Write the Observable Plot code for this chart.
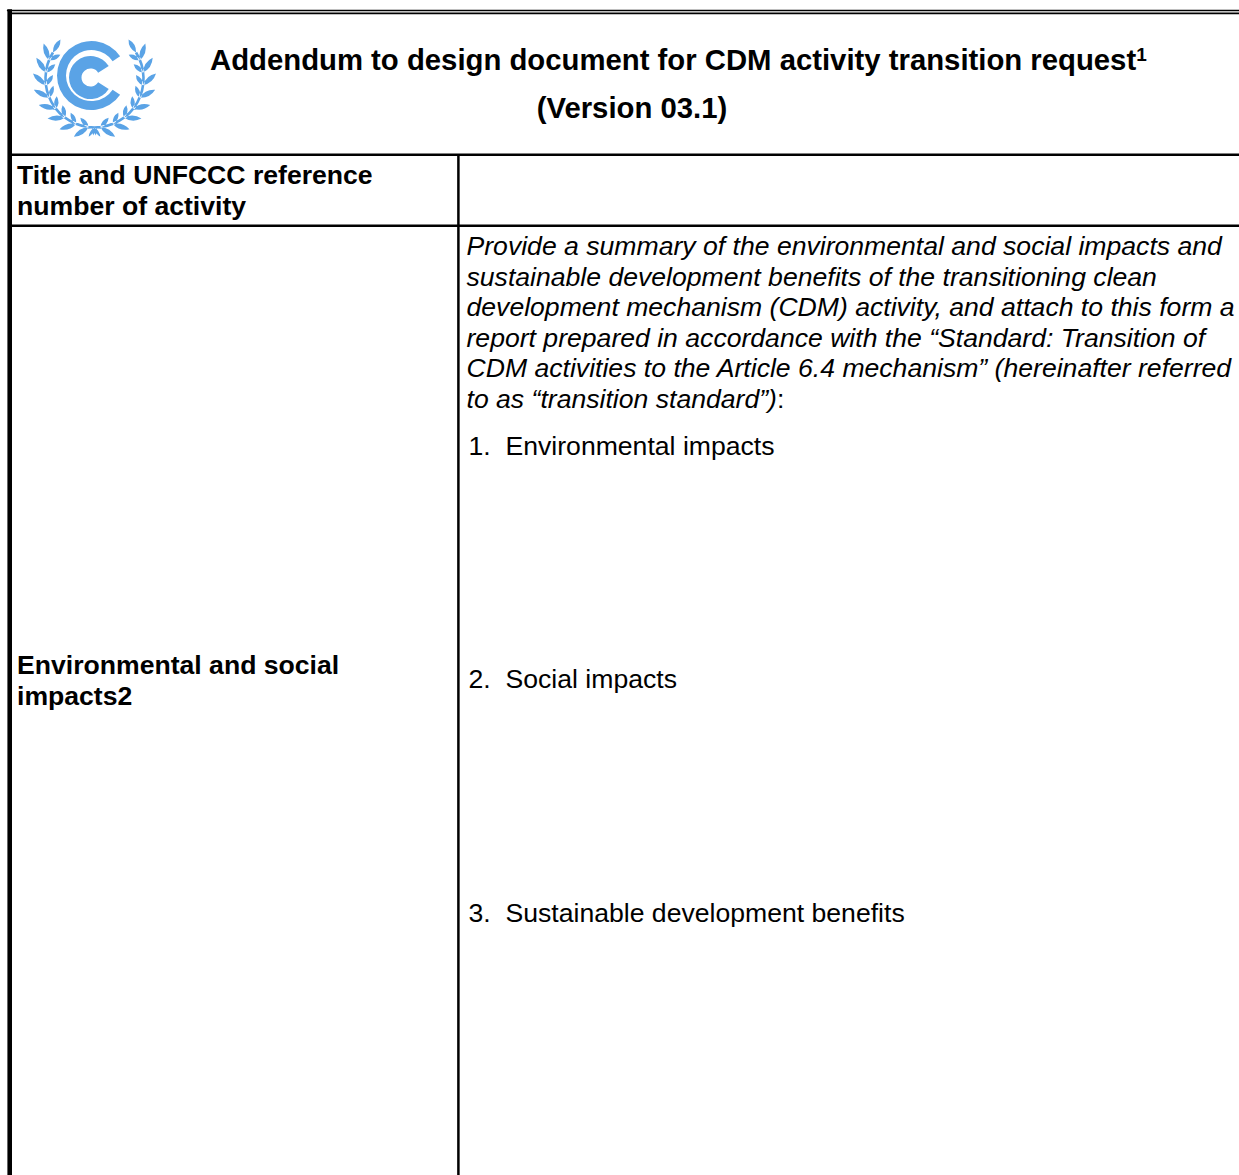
<!DOCTYPE html>
<html>
<head>
<meta charset="utf-8">
<script src="https://cdn.jsdelivr.net/npm/d3@7"></script>
<script src="https://cdn.jsdelivr.net/npm/@observablehq/plot@0.6"></script>
<style>
  html, body { margin: 0; padding: 0; background: #ffffff; overflow: hidden; }
  #chart svg { display: block; }
</style>
</head>
<body>
<div id="chart"></div>
<script>
// ---------------- content ----------------
const headerTitle = "Addendum to design document for CDM activity transition request";
const headerFootnoteMark = "1";
const headerVersion = "(Version 03.1)";
const rowLabels = [
  ["Title and UNFCCC reference", "number of activity"],
  ["Environmental and social", "impacts2"]
];
const instructionLines = [
  "Provide a summary of the environmental and social impacts and",
  "sustainable development benefits of the transitioning clean",
  "development mechanism (CDM) activity, and attach to this form a",
  "report prepared in accordance with the \u201cStandard: Transition of",
  "CDM activities to the Article 6.4 mechanism\u201d (hereinafter referred",
  "to as \u201ctransition standard\u201d)"
];
const instructionTrailer = ":";
const listNumbers = ["1.", "2.", "3."];
const listItems = ["Environmental impacts", "Social impacts", "Sustainable development benefits"];

// ---------------- layout (page pixels) ----------------
const W = 1239, H = 1175;
const FONT = "'Liberation Sans', Arial, Helvetica, sans-serif";
const BODY_SIZE = 26.6, HEAD_SIZE = 29.3, LINE_STEP = 30.6;
const layout = {
  outerLeft: 9.2, outerLeftWidth: 4.6,
  topLine1: 10, topLine2: 12.9,
  headerBottom: 154.3, row1Bottom: 225.2,
  colDivider: 457.9,
  logoX: 91, logoY: 75,
  titleX: 209.5, titleBase: 69, versionX: 631.5, versionBase: 117.5,
  labelX: 16.5, row1Base: 183.5, row2Base: 673.5,
  contentX: 466, instrBase: 254.5,
  numberX: 468, itemX: 505, itemBases: [454, 687, 921]
};
const logoColor = "#5aa3e6";

const hLines = [
  {y: layout.topLine1, x1: layout.outerLeft - layout.outerLeftWidth / 2, x2: W, w: 1.5},
  {y: layout.topLine2, x1: layout.outerLeft + layout.outerLeftWidth / 2, x2: W, w: 1.8},
  {y: layout.headerBottom, x1: layout.outerLeft, x2: W, w: 2.5},
  {y: layout.row1Bottom, x1: layout.outerLeft, x2: W, w: 2.5}
];
const vLines = [
  {x: layout.outerLeft, y1: layout.topLine1 - 0.75, y2: H, w: layout.outerLeftWidth},
  {x: layout.colDivider, y1: layout.headerBottom, y2: H, w: 2.5}
];

// ---------------- logo symbol (UNFCCC emblem approximation) ----------------
const logoSymbol = {
  draw(ctx, size) {
    const s = Math.sqrt(size / Math.PI) / 60;
    const deg = Math.PI / 180;
    const sector = (cx, cy, r0, r1, a0, a1) => {
      cx *= s; cy *= s; r0 *= s; r1 *= s;
      ctx.moveTo(cx + r1 * Math.cos(a0 * deg), cy + r1 * Math.sin(a0 * deg));
      ctx.arc(cx, cy, r1, a0 * deg, a1 * deg);
      ctx.lineTo(cx + r0 * Math.cos(a1 * deg), cy + r0 * Math.sin(a1 * deg));
      ctx.arc(cx, cy, r0, a1 * deg, a0 * deg, true);
      ctx.closePath();
    };
    const leaf = (bx, by, a, len, w) => {
      const c = Math.cos(a * deg), sn = Math.sin(a * deg);
      const tx = bx + len * c, ty = by + len * sn;
      const mx = (bx + tx) / 2, my = (by + ty) / 2;
      const nx = -sn * w, ny = c * w;
      ctx.moveTo(bx * s, by * s);
      ctx.quadraticCurveTo((mx + nx) * s, (my + ny) * s, tx * s, ty * s);
      ctx.quadraticCurveTo((mx - nx) * s, (my - ny) * s, bx * s, by * s);
      ctx.closePath();
    };
    // outer and inner "C"
    sector(0, 0, 25.5, 34.5, 34, 326);
    sector(-1, 2, 9, 21.5, 32, 328);
    // wreath
    const cx = 3, cy = 3, R = 49;
    for (const side of [-1, 1]) {
      const P = (t) => {
        const x = cx + R * Math.cos(t * deg), y = cy + R * Math.sin(t * deg);
        return side < 0 ? [x, y] : [2 * cx - x, y];
      };
      const A = (a) => side < 0 ? a : 180 - a;
      // stem
      if (side < 0) sector(cx, cy, R - 1.3, R + 1.3, 90, 212);
      else sector(cx, cy, R - 1.3, R + 1.3, -32, 90);
      for (let k = 0; k < 8; ++k) {
        const t = 97 + k * 15;
        const [px, py] = P(t);
        leaf(px, py, A(t + 50), 17.5, 5.2);
        leaf(px, py, A(t + 132), 12.5, 4.4);
      }
      const [tx, ty] = P(212);
      leaf(tx, ty, A(300), 15, 4.8);
      // ribbon ends at the bottom
      const [bx, by] = P(90);
      leaf(bx, by, A(58), 11, 2.8);
      leaf(bx, by, A(100), 8, 2.2);
    }
  }
};

// ---------------- text rows ----------------
const labelRows = rowLabels.flatMap((lines, r) =>
  lines.map((t, i) => ({t, base: (r === 0 ? layout.row1Base : layout.row2Base) + i * LINE_STEP}))
);
const instrRows = instructionLines.map((t, i) => ({t, base: layout.instrBase + i * LINE_STEP}));
const listRows = listItems.map((t, i) => ({num: listNumbers[i], t, base: layout.itemBases[i]}));

const common = {fontFamily: FONT, fill: "black", textAnchor: "start", lineAnchor: "bottom"};

const plot = Plot.plot({
  width: W, height: H,
  margin: 0,
  x: {domain: [0, W], range: [0, W], axis: null},
  y: {domain: [0, H], range: [0, H], axis: null},
  style: {background: "#ffffff", fontFamily: FONT},
  marks: [
    Plot.ruleY(hLines, {y: "y", x1: "x1", x2: "x2", stroke: "black", strokeWidth: (d) => d.w}),
    Plot.ruleX(vLines, {x: "x", y1: "y1", y2: "y2", stroke: "black", strokeWidth: (d) => d.w}),
    Plot.dot([0], {x: layout.logoX, y: layout.logoY, r: 60, symbol: logoSymbol, fill: logoColor, stroke: "none"}),
    Plot.text([headerTitle], {...common, x: layout.titleX, y: layout.titleBase, text: (d) => d, fontSize: HEAD_SIZE, fontWeight: "bold"}),
    Plot.text([headerVersion], {...common, x: layout.versionX, y: layout.versionBase, text: (d) => d, textAnchor: "middle", fontSize: HEAD_SIZE, fontWeight: "bold"}),
    Plot.text(labelRows, {...common, x: layout.labelX, y: "base", text: "t", fontSize: BODY_SIZE, fontWeight: "bold"}),
    Plot.text(instrRows, {...common, x: layout.contentX, y: "base", text: "t", fontSize: BODY_SIZE, fontStyle: "italic"}),
    Plot.text(listRows, {...common, x: layout.numberX, y: "base", text: "num", fontSize: BODY_SIZE}),
    Plot.text(listRows, {...common, x: layout.itemX, y: "base", text: "t", fontSize: BODY_SIZE})
  ]
});

// superscript footnote mark and the non-italic trailing colon
const svgSel = d3.select(plot);
svgSel.selectAll("text").filter(function () { return this.textContent === headerTitle; })
  .append("tspan").attr("font-size", 19).attr("dy", -9).text(headerFootnoteMark);
svgSel.selectAll("text").filter(function () { return this.textContent === instructionLines[instructionLines.length - 1]; })
  .append("tspan").attr("font-style", "normal").text(instructionTrailer);

document.getElementById("chart").appendChild(plot);
</script>
</body>
</html>
